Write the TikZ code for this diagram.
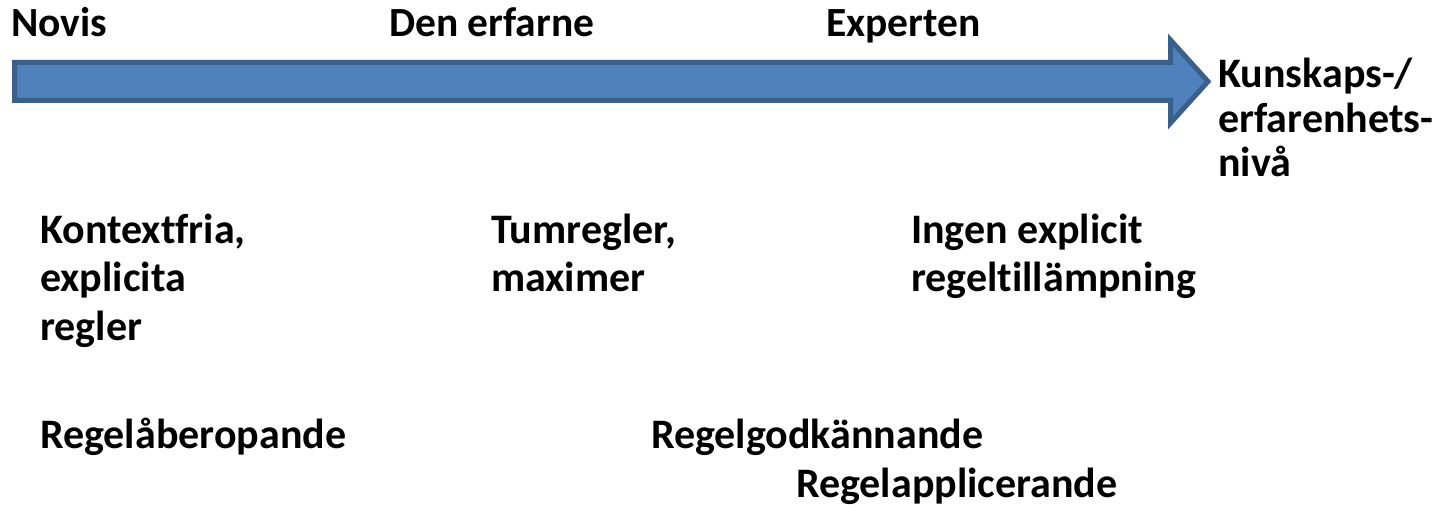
\documentclass[tikz,border=0pt]{standalone}
\usepackage{fontspec}
\setmainfont[Ligatures=NoCommon]{Carlito}
\definecolor{arrowfill}{HTML}{4F81BD}
\definecolor{arrowline}{HTML}{3A5F8B}
\tikzset{
  lbl/.style={anchor=base west, inner sep=0pt, align=left,
    font=\bfseries\fontsize{42}{48.5}\selectfont},
  lbltop/.style={lbl, font=\bfseries\fontsize{41.5}{48}\selectfont},
  lbltight/.style={lbl, font=\bfseries\fontsize{42}{44.5}\selectfont},
  bigarrow/.style={fill=arrowfill, draw=arrowline, line width=5pt, line join=miter}
}
\begin{document}
\begin{tikzpicture}[x=1pt,y=-1pt]
\useasboundingbox (0,0) rectangle (1441,505);
% big arrow
\draw[bigarrow] (14.5,62.5) -- (1170.5,62.5) -- (1170.5,40) -- (1208,81.5)
  -- (1170.5,123) -- (1170.5,100.5) -- (14.5,100.5) -- cycle;
% top labels (anchor = baseline of the last line)
\node[lbltop] (novis) at (11,37) {Novis};
\node[lbltop] (erfarne) at (389,37) {Den erfarne};
\node[lbltop] (experten) at (826,37) {Experten};
\node[lbltight] (niva) at (1218,177) {Kunskaps-/\\erfarenhets-\\nivå};
% middle labels
\node[lbl] (kontext) at (40,340) {Kontextfria,\\explicita\\regler};
\node[lbl] (tum) at (491,291.5) {Tumregler,\\maximer};
\node[lbl] (ingen) at (911,291.5) {Ingen explicit\\regeltillämpning};
% bottom labels
\node[lbl] (aberop) at (40,448) {Regelåberopande};
\node[lbl] (godk) at (651,448) {Regelgodkännande};
\node[lbl] (appl) at (796,497) {Regelapplicerande};
\end{tikzpicture}
\end{document}
